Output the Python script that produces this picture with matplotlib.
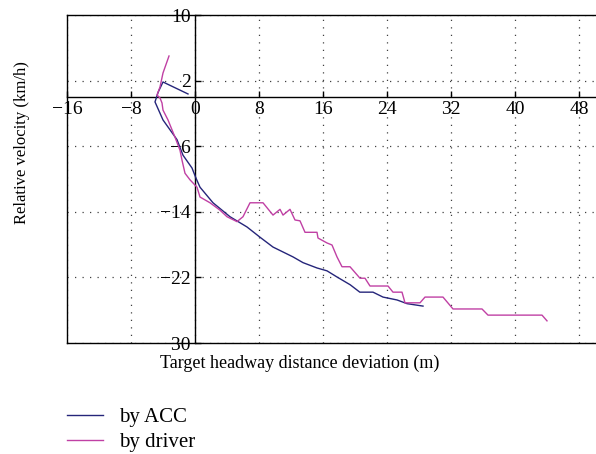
import matplotlib
matplotlib.use("Agg")
import matplotlib.pyplot as plt

plt.rcParams['font.family'] = ['Liberation Serif', 'DejaVu Serif']

# by ACC
acc_x = [-0.875, -4.0, -4.6, -5.0, -4.0, -2.25, -1.5, -0.375, 0.125, 0.625, 2.25,
         4.375, 6.5, 8.125, 9.75, 11.0, 12.25, 13.5, 15.25, 16.5, 17.75, 19.4,
         20.6, 22.25, 23.5, 25.25, 26.5, 28.5]
acc_y = [0.37, 1.83, 0.6, -0.6, -2.8, -5.2, -7.1, -8.66, -9.9, -11.0, -12.9,
         -14.6, -15.85, -17.1, -18.3, -18.9, -19.5, -20.2, -20.85, -21.2, -21.95, -22.9,
         -23.8, -23.8, -24.4, -24.75, -25.2, -25.5]

# by driver
drv_x = [-3.25, -4.0, -4.375, -4.75, -4.375, -4.125, -4.0, -3.375, -2.875, -2.5,
         -1.875, -1.625, -1.25, -0.625, 0.25, 0.625, 1.875, 3.125, 4.0, 5.25, 6.0,
         6.875, 8.5, 9.0, 9.75, 10.625, 11.0, 11.875, 12.5, 13.125, 13.75, 15.25,
         15.375, 16.5, 17.125, 17.75, 18.375, 19.375, 20.625, 21.25, 21.875, 24.125,
         24.75, 25.875, 26.25, 28.125, 28.75, 31.0, 32.25, 35.875, 36.625, 43.375, 44.0]
drv_y = [5.0, 2.93, 1.22, 0.24, -0.12, -0.73, -1.6, -2.8, -4.0, -4.9,
         -6.5, -7.7, -9.3, -10.1, -11.0, -12.2, -12.9, -13.8, -14.6, -15.2, -14.6,
         -12.9, -12.9, -13.5, -14.4, -13.7, -14.4, -13.7, -15.0, -15.1, -16.5, -16.5,
         -17.2, -17.8, -18.05, -19.5, -20.7, -20.7, -22.1, -22.1, -23.05, -23.05,
         -23.8, -23.8, -25.1, -25.1, -24.4, -24.4, -25.85, -25.85, -26.6, -26.6, -27.3]

xticks = [-16, -8, 0, 8, 16, 24, 32, 40, 48]
yticks = [10, 2, -6, -14, -22, -30]

fig = plt.figure(figsize=(5.96, 4.54), dpi=100)
ax = fig.add_axes([67/596, 1 - 343/454, 1 - 67/596, (343 - 15)/454])

ax.plot(acc_x, acc_y, color='#25257a', lw=1.0, label='by ACC', zorder=3)
ax.plot(drv_x, drv_y, color='#c040a4', lw=1.0, label='by driver', zorder=3)

ax.set_xlim(-16, (596 - 195) / 8)
ax.set_ylim(-30, 10)

# zero axes through the origin, box on the other sides
ax.spines['left'].set_position(('data', 0))
ax.spines['bottom'].set_position(('data', 0))
ax.spines['right'].set_position(('axes', 0))
for s in ax.spines.values():
    s.set_linewidth(1.0)
ax.plot([0, 1], [0, 0], transform=ax.transAxes, color='black', lw=1.0, clip_on=False)

ax.set_xticks(xticks)
ax.set_xticklabels([str(v).replace('-', '\u2212') for v in xticks])
ax.set_yticks(yticks)
ax.set_yticklabels([str(v).replace('-', '\u2212') for v in yticks])
ax.tick_params(direction='in', length=4, width=1, labelsize=14, pad=3)
ax.tick_params(axis='y', right=False)

ax.grid(True, linestyle=(0, (1, 5)), color='0.25', lw=0.9)
ax.set_axisbelow(True)

fig.text(300/596, 1 - 363/454, 'Target headway distance deviation (m)',
         ha='center', va='center', fontsize=13)
fig.text(22/596, 1 - 143/454, 'Relative velocity (km/h)', rotation=90,
         ha='center', va='center', fontsize=12)

fig.legend(loc='upper left', bbox_to_anchor=(59/596, 1 - 399/454), frameon=False,
           fontsize=15, handlelength=1.7, handletextpad=0.77, labelspacing=0.27,
           borderaxespad=0)

fig.savefig('out.png', dpi=100)
